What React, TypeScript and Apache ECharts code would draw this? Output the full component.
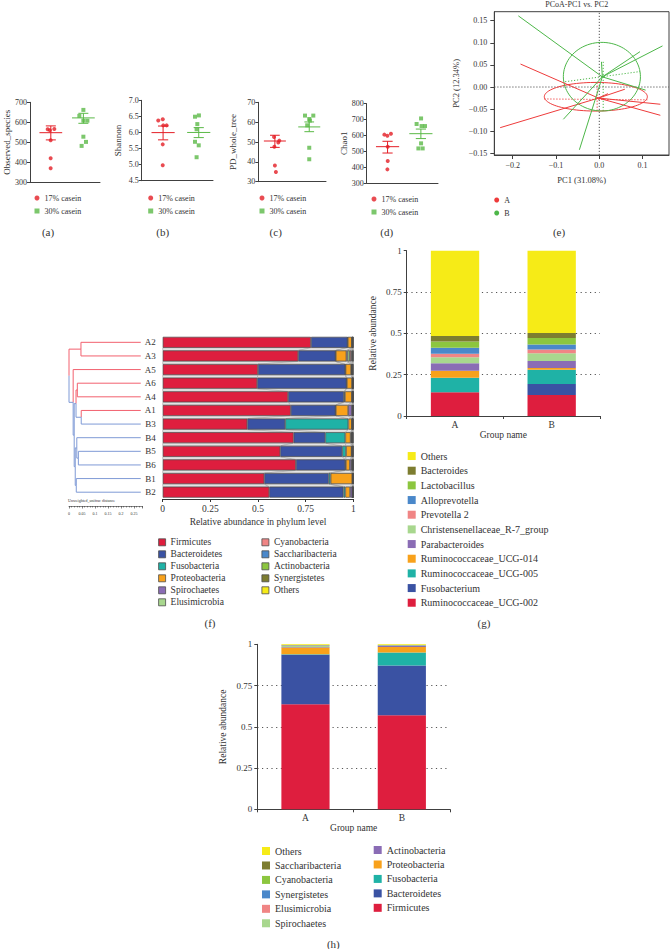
import React, { useEffect, useRef } from 'react';
import * as echarts from 'echarts';

// ---------------- DATA ----------------
// (a) Observed_species
const obsRed = [565, 560, 566, 510, 420, 370];
const obsRedX = [1.01, 1.14, 1.39, 1.18, 1.18, 1.18];
const obsGreen = [662, 632, 608, 608, 528, 502, 482];
const obsGreenX = [3.05, 2.82, 3.05, 3.28, 3.05, 3.2, 2.95];
const obsMeanSem = [[1.19, 548, 512, 582], [3.05, 622, 595, 645]];
// (b) Shannon
const shRed = [6.37, 6.41, 6.22, 6.22, 5.63, 4.98];
const shRedX = [0.93, 1.18, 1.21, 1.4, 1.18, 1.18];
const shGreen = [6.49, 6.53, 6.26, 6.1, 5.71, 5.6, 5.23];
const shGreenX = [2.99, 3.21, 3.12, 3.08, 2.99, 3.2, 3.08];
const shMeanSem = [[1.2, 5.995, 5.77, 6.2], [3.2, 6.0, 5.84, 6.15]];
// (c) PD_whole_tree
const pdRed = [52.5, 47.6, 49.7, 50.7, 38.2, 34.9];
const pdRedX = [0.93, 0.95, 1.18, 1.24, 0.98, 1.04];
const pdGreen = [63.3, 63.3, 61.6, 60.8, 58.4, 47.1, 41.3];
const pdGreenX = [2.76, 3.25, 3.01, 3.05, 2.89, 3.01, 3.01];
const pdMeanSem = [[0.98, 50.5, 47.3, 53.4], [3.01, 57.6, 55.2, 60.1]];
// (d) Chao1
const chaoRed = [605, 598, 611, 529, 439, 386];
const chaoRedX = [0.99, 1.16, 1.36, 1.18, 1.18, 1.16];
const chaoGreen = [707, 672, 659, 659, 550, 518, 518];
const chaoGreenX = [3.05, 2.8, 3.08, 3.27, 3.05, 2.9, 3.14];
const chaoMeanSem = [[1.17, 529, 489, 563], [3.04, 611, 580, 640]];

// (e) PCoA
const pcXRange = [-0.2425, 0.161];
const pcYRange = [-0.1538, 0.1704];
const pcXTicks = [-0.2, -0.1, 0, 0.1];
const pcYTicks = [-0.15, -0.1, -0.05, 0, 0.05, 0.1, 0.15];
const pcoaCentroidA = [-0.002, -0.025];
const pcoaCentroidB = [0.007, 0.023];
const pcoaA = [[-0.182, 0.052], [-0.229, -0.092], [0.141, -0.039], [0.141, -0.064], [0.059, -0.005], [0.02, -0.015]];
const pcoaB = [[-0.187, 0.161], [0.146, 0.093], [0.094, 0.08], [0.107, -0.007], [-0.083, -0.073], [-0.046, -0.142], [0.005, 0.057]];
// [cx, cy, rx, ry, group]
const pcoaEllipses = [[-0.008, -0.022, 0.119, 0.0324, 0], [0.006, 0.0234, 0.089, 0.0776, 1]];
// [x1, y1, x2, y2, group]
const pcoaAxesDotted = [[-0.127, -0.027, 0.111, -0.029, 0], [-0.005, 0.01, -0.005, -0.055, 0], [-0.079, 0.012, 0.094, 0.035, 1], [0.009, 0.057, 0.009, -0.055, 1]];

// (f) phylum level per sample
const fSamples = ['A2', 'A3', 'A5', 'A6', 'A4', 'A1', 'B3', 'B4', 'B5', 'B6', 'B1', 'B2'];
const fFirmicutes = [0.778, 0.711, 0.5, 0.496, 0.658, 0.672, 0.444, 0.687, 0.617, 0.699, 0.533, 0.559];
const fBacteroidetes = [0.192, 0.196, 0.458, 0.469, 0.293, 0.235, 0.199, 0.166, 0.325, 0.259, 0.338, 0.389];
const fFusobacteria = [0.001, 0.001, 0.001, 0.001, 0.005, 0.001, 0.331, 0.105, 0.02, 0.003, 0.01, 0.01];
const fProteobacteria = [0.022, 0.056, 0.03, 0.028, 0.037, 0.065, 0.019, 0.028, 0.029, 0.021, 0.114, 0.025];
const fSpirochaetes = [0.001, 0.006, 0.002, 0.001, 0.001, 0.02, 0.001, 0.004, 0.002, 0.01, 0.001, 0.012];
const fElusimicrobia = [0.001, 0.012, 0.002, 0.001, 0.002, 0.002, 0.001, 0.002, 0.001, 0.002, 0.001, 0.001];
const fCyanobacteria = [0.001, 0.008, 0.002, 0.001, 0.001, 0.002, 0.001, 0.002, 0.002, 0.002, 0.001, 0.001];
const fSaccharibacteria = [0.001, 0.004, 0.001, 0.001, 0.001, 0.001, 0.001, 0.002, 0.001, 0.002, 0.001, 0.001];
const fActinobacteria = [0.0005, 0.003, 0.001, 0.0005, 0.001, 0.001, 0.001, 0.001, 0.001, 0.001, 0.0005, 0.001];
const fSynergistetes = [0.0005, 0.002, 0.001, 0.0005, 0.0005, 0.0005, 0.001, 0.001, 0.001, 0.0005, 0.0005, 0.0005];
const fOthers = [0.002, 0.001, 0.002, 0.002, 0.0005, 0.0005, 0.001, 0.002, 0.001, 0.0005, 0.001, 0.0005];
// dendrogram merges: [id, left, right, distance from root]
const dendroMerges: [string, string, string, number][] = [
  ['n1', 'A2', 'A3', 0.046],
  ['n2', 'A6', 'A4', 0.032],
  ['n3', 'A1', 'B3', 0.047],
  ['n4', 'n2', 'n3', 0.027],
  ['bz', 'B5', 'B6', 0.036],
  ['bx', 'B4', 'bz', 0.03],
  ['by', 'B1', 'B2', 0.028],
  ['nb', 'bx', 'by', 0.024],
  ['ny', 'n4', 'nb', 0.02],
  ['nx', 'A5', 'ny', 0.016],
  ['root', 'n1', 'nx', 0.0],
];
const dendroLeafDepth = 0.276;

// (g) genus level
const groups = ['A', 'B'];
const gUCG002 = [0.143, 0.127];
const gFusobacterium = [0.0, 0.067];
const gUCG005 = [0.089, 0.086];
const gUCG014 = [0.042, 0.01];
const gParabacteroides = [0.045, 0.043];
const gChristensenellaceae = [0.036, 0.046];
const gPrevotella2 = [0.022, 0.024];
const gAlloprevotella = [0.036, 0.03];
const gLactobacillus = [0.037, 0.039];
const gBacteroides = [0.034, 0.03];
const gOthers = [0.516, 0.498];

// (h) phylum level per group
const hFirmicutes = [0.637, 0.57];
const hBacteroidetes = [0.3, 0.301];
const hFusobacteria = [0.002, 0.079];
const hProteobacteria = [0.042, 0.034];
const hActinobacteria = [0.002, 0.006];
const hSpirochaetes = [0.008, 0.002];
const hElusimicrobia = [0.002, 0.001];
const hSynergistetes = [0.001, 0.001];
const hCyanobacteria = [0.001, 0.001];
const hSaccharibacteria = [0.001, 0.001];
const hOthers = [0.004, 0.004];

// ---------------- STYLE ----------------
const FONT = 'Liberation Serif';
const TXT = '#333333';
const AXC = '#404040';
const RED = '#E41E26';
const GREEN = '#5BB947';
const SEG_COLORS = ['#EE3B3B', '#4DB749', '#555555', '#F2606E', '#7F9AD6'];
const P = {
  red: '#DE1E3E', navy: '#3A52A3', teal: '#1FB2A6', orange: '#F8A11B', purple: '#8A6CB5',
  lgreen: '#A8D78E', salmon: '#F08585', mblue: '#4A88CA', green: '#8CC63F', olive: '#7D7D30', yellow: '#F6EB17',
};

const fPhyla = ['Firmicutes', 'Bacteroidetes', 'Fusobacteria', 'Proteobacteria', 'Spirochaetes', 'Elusimicrobia', 'Cyanobacteria', 'Saccharibacteria', 'Actinobacteria', 'Synergistetes', 'Others'];
const fValues = [fFirmicutes, fBacteroidetes, fFusobacteria, fProteobacteria, fSpirochaetes, fElusimicrobia, fCyanobacteria, fSaccharibacteria, fActinobacteria, fSynergistetes, fOthers];
const fColors = [P.red, P.navy, P.teal, P.orange, P.purple, P.lgreen, P.salmon, P.mblue, P.green, P.olive, P.yellow];

const gGenera = ['Ruminococcaceae_UCG-002', 'Fusobacterium', 'Ruminococcaceae_UCG-005', 'Ruminococcaceae_UCG-014', 'Parabacteroides', 'Christensenellaceae_R-7_group', 'Prevotella 2', 'Alloprevotella', 'Lactobacillus', 'Bacteroides', 'Others '];
const gValues = [gUCG002, gFusobacterium, gUCG005, gUCG014, gParabacteroides, gChristensenellaceae, gPrevotella2, gAlloprevotella, gLactobacillus, gBacteroides, gOthers];
const gColors = [P.red, P.navy, P.teal, P.orange, P.purple, P.lgreen, P.salmon, P.mblue, P.green, P.olive, P.yellow];

const hPhyla = ['Firmicutes', 'Bacteroidetes', 'Fusobacteria', 'Proteobacteria', 'Actinobacteria', 'Spirochaetes', 'Elusimicrobia', 'Synergistetes', 'Cyanobacteria', 'Saccharibacteria', 'Others'];
const hValues = [hFirmicutes, hBacteroidetes, hFusobacteria, hProteobacteria, hActinobacteria, hSpirochaetes, hElusimicrobia, hSynergistetes, hCyanobacteria, hSaccharibacteria, hOthers];
const hColors = [P.red, P.navy, P.teal, P.orange, P.purple, P.lgreen, P.salmon, P.mblue, P.green, P.olive, P.yellow];

const dotPanels = [
  { name: 'Observed_species', min: 300, max: 700, interval: 100, dec: 0, red: obsRed, redX: obsRedX, green: obsGreen, greenX: obsGreenX, ms: obsMeanSem, box: [30, 102.3, 70, 80], gap: 19, legend: [34.5, 193] },
  { name: 'Shannon', min: 4.5, max: 7, interval: 0.5, dec: 1, red: shRed, redX: shRedX, green: shGreen, greenX: shGreenX, ms: shMeanSem, box: [141.7, 100.3, 71.3, 80.4], gap: 19, legend: [148.2, 193] },
  { name: 'PD_whole_tree', min: 30, max: 70, interval: 10, dec: 0, red: pdRed, redX: pdRedX, green: pdGreen, greenX: pdGreenX, ms: pdMeanSem, box: [258.3, 102.3, 67.7, 79.4], gap: 21, legend: [259.5, 193] },
  { name: 'Chao1', min: 300, max: 800, interval: 100, dec: 0, red: chaoRed, redX: chaoRedX, green: chaoGreen, greenX: chaoGreenX, ms: chaoMeanSem, box: [366.7, 103.7, 71.3, 79.3], gap: 18, legend: [371.5, 194] },
];

const mkLine = (color: string, width = 1) => ({ show: true, onZero: false, lineStyle: { color, width } });
const axisLine = mkLine(AXC);
const lbl = (size: number, extra: any = {}) => ({ color: TXT, fontFamily: FONT, fontSize: size, ...extra });

function renderSeg(params: any, api: any) {
  const p1 = api.coord([api.value(0), api.value(1)]);
  const p2 = api.coord([api.value(2), api.value(3)]);
  const ci = api.value(4);
  const dashed = api.value(5);
  return {
    type: 'line',
    shape: { x1: p1[0], y1: p1[1], x2: p2[0], y2: p2[1] },
    style: { stroke: SEG_COLORS[ci], lineWidth: 1, lineDash: dashed ? [1.2, 1.8] : null },
  };
}

function renderErr(params: any, api: any) {
  const xc = api.value(0), m = api.value(1), lo = api.value(2), hi = api.value(3);
  const color = api.value(4) === 0 ? RED : GREEN;
  const a = api.coord([xc - 0.65, m]);
  const b = api.coord([xc + 0.65, m]);
  const l = api.coord([xc, lo]);
  const h = api.coord([xc, hi]);
  const cw = (b[0] - a[0]) * 0.22;
  const st = { stroke: color, lineWidth: 1 };
  return {
    type: 'group',
    children: [
      { type: 'line', shape: { x1: a[0], y1: a[1], x2: b[0], y2: b[1] }, style: st },
      { type: 'line', shape: { x1: l[0], y1: l[1], x2: h[0], y2: h[1] }, style: st },
      { type: 'line', shape: { x1: l[0] - cw, y1: l[1], x2: l[0] + cw, y2: l[1] }, style: st },
      { type: 'line', shape: { x1: h[0] - cw, y1: h[1], x2: h[0] + cw, y2: h[1] }, style: st },
    ],
  };
}

function renderEllipse(params: any, api: any) {
  const cx = api.value(0), cy = api.value(1), rx = api.value(2), ry = api.value(3);
  const pts: number[][] = [];
  for (let k = 0; k <= 90; k++) {
    const t = (k / 90) * Math.PI * 2;
    pts.push(api.coord([cx + rx * Math.cos(t), cy + ry * Math.sin(t)]));
  }
  return { type: 'polyline', shape: { points: pts }, style: { stroke: SEG_COLORS[api.value(4)], lineWidth: 1, fill: 'none' } };
}

const F_BAR_H = 11;
function renderConnectors(params: any, api: any) {
  const i = api.value(1);
  const half = F_BAR_H / 2;
  const children: any[] = [];
  let c0 = 0, c1 = 0;
  for (let k = 0; k < fValues.length; k++) {
    const n0 = c0 + fValues[k][i];
    const n1 = c1 + fValues[k][i + 1];
    const a = api.coord([c0, i]);
    const b = api.coord([n0, i]);
    const c = api.coord([n1, i + 1]);
    const d = api.coord([c1, i + 1]);
    children.push({
      type: 'polygon',
      shape: { points: [[a[0], a[1] + half], [b[0], b[1] + half], [c[0], c[1] - half], [d[0], d[1] - half]] },
      style: { fill: '#e4e4e4', stroke: '#9a9a9a', lineWidth: 0.5 },
    });
    c0 = n0; c1 = n1;
  }
  return { type: 'group', children };
}

function buildDendro() {
  const y: Record<string, number> = {};
  const x: Record<string, number> = {};
  const grp: Record<string, string> = {};
  fSamples.forEach((s, i) => { y[s] = i; x[s] = dendroLeafDepth; grp[s] = s[0]; });
  dendroMerges.forEach(([id, l, r, d]) => {
    y[id] = (y[l] + y[r]) / 2;
    x[id] = d;
    grp[id] = grp[l] === grp[r] ? grp[l] : 'M';
  });
  const segs: number[][] = [];
  dendroMerges.forEach(([id, l, r, d]) => {
    [l, r].forEach((ch) => {
      const ci = grp[ch] === 'A' ? 3 : 4;
      segs.push([d, y[id], d, y[ch], ci, 0]);
      segs.push([d, y[ch], x[ch], y[ch], ci, 0]);
    });
  });
  return segs;
}

function buildOption() {
  const grid: any[] = [];
  const xAxis: any[] = [];
  const yAxis: any[] = [];
  const series: any[] = [];
  const legend: any[] = [];

  const legendBase = { orient: 'vertical', padding: 0, selectedMode: false };

  dotPanels.forEach((p, i) => {
    grid.push({ left: p.box[0], top: p.box[1], width: p.box[2], height: p.box[3], containLabel: false, outerBoundsMode: 'none' });
    xAxis.push({ gridIndex: i, type: 'value', min: 0, max: 4, axisLine, axisTick: { show: false }, axisLabel: { show: false }, splitLine: { show: false } });
    yAxis.push({
      gridIndex: i, type: 'value', min: p.min, max: p.max, interval: p.interval,
      name: p.name, nameLocation: 'middle', nameGap: p.gap, nameMoveOverlap: false, nameTextStyle: lbl(9),
      axisLine, axisTick: { show: true, length: 3, lineStyle: { color: AXC } },
      axisLabel: lbl(8, { margin: 3, formatter: (v: number) => v.toFixed(p.dec) }),
      splitLine: { show: false },
    });
    series.push({ type: 'custom', silent: true, xAxisIndex: i, yAxisIndex: i, renderItem: renderErr, data: p.ms.map((r, k) => [...r, k]), z: 2 });
    series.push({ type: 'scatter', silent: true, name: '17% casein', xAxisIndex: i, yAxisIndex: i, symbol: 'circle', symbolSize: 4, itemStyle: { color: RED }, data: p.red.map((v, k) => [p.redX[k], v]), z: 3 });
    series.push({ type: 'scatter', silent: true, name: '30% casein', xAxisIndex: i, yAxisIndex: i, symbol: 'rect', symbolSize: 4, itemStyle: { color: GREEN }, data: p.green.map((v, k) => [p.greenX[k], v]), z: 3 });
    legend.push({
      ...legendBase, left: p.legend[0], top: p.legend[1], itemWidth: 5, itemHeight: 5, itemGap: 3,
      textStyle: lbl(8, { lineHeight: 10 }),
      data: [{ name: '17% casein', icon: 'circle', itemStyle: { color: RED } }, { name: '30% casein', icon: 'rect', itemStyle: { color: GREEN } }],
    });
  });

  // (e) PCoA, index 4
  grid.push({ left: 494.3, top: 11.7, width: 174.7, height: 143.3, show: true, borderColor: AXC, borderWidth: 1, containLabel: false, outerBoundsMode: 'none' });
  xAxis.push({
    gridIndex: 4, type: 'value', min: pcXRange[0], max: pcXRange[1], name: 'PC1 (31.08%)', nameLocation: 'middle', nameGap: 20, nameMoveOverlap: false,
    nameTextStyle: lbl(8.5), axisLine,
    axisTick: { show: true, length: 4, customValues: pcXTicks, lineStyle: { color: AXC } },
    axisLabel: lbl(8, { margin: 6, customValues: pcXTicks, formatter: (v: number) => (v < 0 ? '\u2212' : '') + Math.abs(v).toFixed(1) }),
    splitLine: { show: false },
  });
  yAxis.push({
    gridIndex: 4, type: 'value', min: pcYRange[0], max: pcYRange[1], name: 'PC2 (12.34%)', nameLocation: 'middle', nameGap: 34, nameMoveOverlap: false,
    nameTextStyle: lbl(8.5), axisLine,
    axisTick: { show: true, length: 4, customValues: pcYTicks, lineStyle: { color: AXC } },
    axisLabel: lbl(8, { margin: 7, customValues: pcYTicks, formatter: (v: number) => (v < 0 ? '\u2212' : '') + Math.abs(v).toFixed(2) }),
    splitLine: { show: false },
  });
  const crosshair = [[pcXRange[0], 0, pcXRange[1], 0, 2, 1], [0, pcYRange[0], 0, pcYRange[1], 2, 1]];
  series.push({ type: 'custom', silent: true, xAxisIndex: 4, yAxisIndex: 4, renderItem: renderSeg, data: crosshair, z: 1 });
  series.push({ type: 'custom', silent: true, xAxisIndex: 4, yAxisIndex: 4, renderItem: renderSeg, data: pcoaAxesDotted.map((s) => [...s, 1]), z: 2 });
  series.push({ type: 'custom', silent: true, xAxisIndex: 4, yAxisIndex: 4, renderItem: renderEllipse, data: pcoaEllipses, z: 2 });
  series.push({ type: 'custom', silent: true, name: 'A', xAxisIndex: 4, yAxisIndex: 4, renderItem: renderSeg, itemStyle: { color: SEG_COLORS[0] }, data: pcoaA.map((p) => [pcoaCentroidA[0], pcoaCentroidA[1], p[0], p[1], 0, 0]), z: 3 });
  series.push({ type: 'custom', silent: true, name: 'B', xAxisIndex: 4, yAxisIndex: 4, renderItem: renderSeg, itemStyle: { color: SEG_COLORS[1] }, data: pcoaB.map((p) => [pcoaCentroidB[0], pcoaCentroidB[1], p[0], p[1], 1, 0]), z: 3 });
  legend.push({
    ...legendBase, left: 494.2, top: 195, itemWidth: 5, itemHeight: 5, itemGap: 3, textStyle: lbl(8, { lineHeight: 10 }),
    data: [{ name: 'A', icon: 'circle', itemStyle: { color: SEG_COLORS[0] } }, { name: 'B', icon: 'circle', itemStyle: { color: SEG_COLORS[1] } }],
  });

  // (f) dendrogram, index 5
  const band = 163.5 / fSamples.length;
  grid.push({ left: 69, top: 335.5, width: 72.8, height: 170.5, containLabel: false, outerBoundsMode: 'none' });
  xAxis.push({
    gridIndex: 5, type: 'value', min: 0, max: 0.28, interval: 0.05, position: 'bottom',
    axisLine: mkLine('#333', 0.6),
    axisTick: { show: true, length: 2.5, lineStyle: { color: '#333', width: 0.6 } },
    minorTick: { show: true, splitNumber: 5, length: 1.5, lineStyle: { color: '#333', width: 0.5 } },
    axisLabel: lbl(4, { margin: 5, showMaxLabel: false }),
    splitLine: { show: false },
  });
  yAxis.push({ gridIndex: 5, type: 'value', min: -0.5, max: -0.5 + 170.5 / band, inverse: true, show: false, splitLine: { show: false } });
  series.push({ type: 'custom', silent: true, xAxisIndex: 5, yAxisIndex: 5, renderItem: renderSeg, data: buildDendro(), z: 2 });

  // (f) bars, index 6
  grid.push({ left: 162.7, top: 335.5, width: 190.6, height: 163.5, containLabel: false, outerBoundsMode: 'none' });
  xAxis.push({
    gridIndex: 6, type: 'value', min: 0, max: 1, interval: 0.25, position: 'bottom',
    name: 'Relative abundance in phylum level', nameLocation: 'middle', nameGap: 18, nameMoveOverlap: false, nameTextStyle: lbl(9.5),
    axisLine: mkLine('#333'),
    axisTick: { show: true, length: 3, lineStyle: { color: '#333' } },
    axisLabel: lbl(9.5, { margin: 5 }), splitLine: { show: false },
  });
  yAxis.push({
    gridIndex: 6, type: 'category', data: fSamples, inverse: true,
    axisLine: { show: false, onZero: false }, axisTick: { show: false }, axisLabel: lbl(9, { margin: 7 }), splitLine: { show: false },
  });
  series.push({
    type: 'custom', silent: true, xAxisIndex: 6, yAxisIndex: 6, renderItem: renderConnectors,
    data: fSamples.slice(0, fSamples.length - 1).map((_, i) => [0, i]), z: 1,
  });
  fPhyla.forEach((name, k) => {
    series.push({
      type: 'bar', silent: true, name, stack: 'f', xAxisIndex: 6, yAxisIndex: 6, barWidth: F_BAR_H,
      itemStyle: { color: fColors[k], borderColor: '#4d4d4d', borderWidth: 0.7 }, data: fValues[k], z: 2,
    });
  });
  const fLegendItem = (n: string) => ({ name: n, icon: 'rect', itemStyle: { color: fColors[fPhyla.indexOf(n)], borderColor: '#4d4d4d', borderWidth: 0.8 } });
  legend.push({ ...legendBase, left: 158.2, top: 536.3, itemWidth: 7, itemHeight: 7, itemGap: 0, textStyle: lbl(9.5, { lineHeight: 12 }), data: fPhyla.slice(0, 6).map(fLegendItem) });
  legend.push({ ...legendBase, left: 261.5, top: 536.3, itemWidth: 7, itemHeight: 7, itemGap: 0, textStyle: lbl(9.5, { lineHeight: 12 }), data: fPhyla.slice(6).map(fLegendItem) });

  // (g) genus, index 7 ; (h) phylum, index 8
  const stackedPanel = (gi: number, box: number[], names: string[], values: number[][], colors: string[], stack: string) => {
    grid.push({ left: box[0], top: box[1], width: box[2], height: box[3], containLabel: false, outerBoundsMode: 'none' });
    xAxis.push({
      gridIndex: gi, type: 'category', data: groups, name: 'Group name', nameLocation: 'middle', nameGap: 14, nameMoveOverlap: false, nameTextStyle: lbl(9.5),
      axisLine: mkLine(AXC), axisTick: { show: true, length: 3, lineStyle: { color: AXC } },
      axisLabel: lbl(9.5, { margin: 4 }), splitLine: { show: false },
    });
    yAxis.push({
      gridIndex: gi, type: 'value', min: 0, max: 1, interval: 0.25,
      name: 'Relative abundance', nameLocation: 'middle', nameGap: 29, nameMoveOverlap: false, nameTextStyle: lbl(9.5),
      axisLine: mkLine(AXC), axisTick: { show: true, length: 3, lineStyle: { color: AXC } },
      axisLabel: lbl(9, { margin: 5 }),
      splitLine: { show: true, lineStyle: { type: [1.2, 3.5], width: 1, color: ['transparent', '#555', '#555', '#555', 'transparent'] } },
    });
    names.forEach((name, k) => {
      series.push({
        type: 'bar', silent: true, name, stack, xAxisIndex: gi, yAxisIndex: gi, barWidth: '50%',
        itemStyle: { color: colors[k] }, data: values[k], z: 3,
      });
    });
  };
  stackedPanel(7, [406.7, 250.7, 193.3, 165.3], gGenera, gValues, gColors, 'g');
  stackedPanel(8, [257.3, 644.3, 192.7, 165], hPhyla, hValues, hColors, 'h');

  legend.push({
    ...legendBase, left: 407.7, top: 448.7, itemWidth: 8, itemHeight: 8, itemGap: 0, textStyle: lbl(10, { lineHeight: 14.67 }),
    data: gGenera.slice().reverse().map((n) => ({ name: n, icon: 'rect', itemStyle: { color: gColors[gGenera.indexOf(n)], borderWidth: 0 } })),
  });
  const hLegendItem = (n: string) => ({ name: n, icon: 'rect', itemStyle: { color: hColors[hPhyla.indexOf(n)], borderWidth: 0, borderColor: 'transparent' } });
  const hRev = hPhyla.slice().reverse();
  legend.push({ ...legendBase, left: 262, top: 843.8, itemWidth: 8, itemHeight: 8, itemGap: 0, textStyle: lbl(10, { lineHeight: 14.45 }), data: hRev.slice(0, 6).map(hLegendItem) });
  legend.push({ ...legendBase, left: 373.7, top: 842.8, itemWidth: 8, itemHeight: 8, itemGap: 0, textStyle: lbl(10, { lineHeight: 14.45 }), data: hRev.slice(6).map(hLegendItem) });

  const txt = (text: string, x: number, y: number, size: number, align = 'center') => ({
    type: 'text', x, y, silent: true,
    style: { text, fontFamily: FONT, fontSize: size, fill: TXT, textAlign: align, textVerticalAlign: 'middle', align, verticalAlign: 'middle' },
  });
  const graphic = [
    txt('PCoA-PC1 vs. PC2', 576.7, 4.5, 8),
    txt('(a)', 48, 231.7, 11), txt('(b)', 162.7, 231.7, 11), txt('(c)', 275.7, 231.7, 11),
    txt('(d)', 386.7, 232.3, 11), txt('(e)', 559, 232.3, 11),
    txt('(f)', 210, 623.3, 11), txt('(g)', 484, 623.3, 11), txt('(h)', 333.3, 944, 11),
    txt('Unweighted_unifrac distance', 68, 500.5, 4, 'left'),
  ];

  return {
    animation: false,
    backgroundColor: '#ffffff',
    textStyle: { fontFamily: FONT, color: TXT },
    grid, xAxis, yAxis, series, legend, graphic,
  };
}

export default function App() {
  const ref = useRef<HTMLDivElement>(null);
  useEffect(() => {
    const chart = echarts.init(ref.current as HTMLDivElement, null, { renderer: 'svg' });
    chart.setOption(buildOption() as any);
    return () => chart.dispose();
  }, []);
  return <div ref={ref} style={{ position: 'fixed', left: 0, top: 0, width: 670, height: 949, background: '#fff' }} />;
}
